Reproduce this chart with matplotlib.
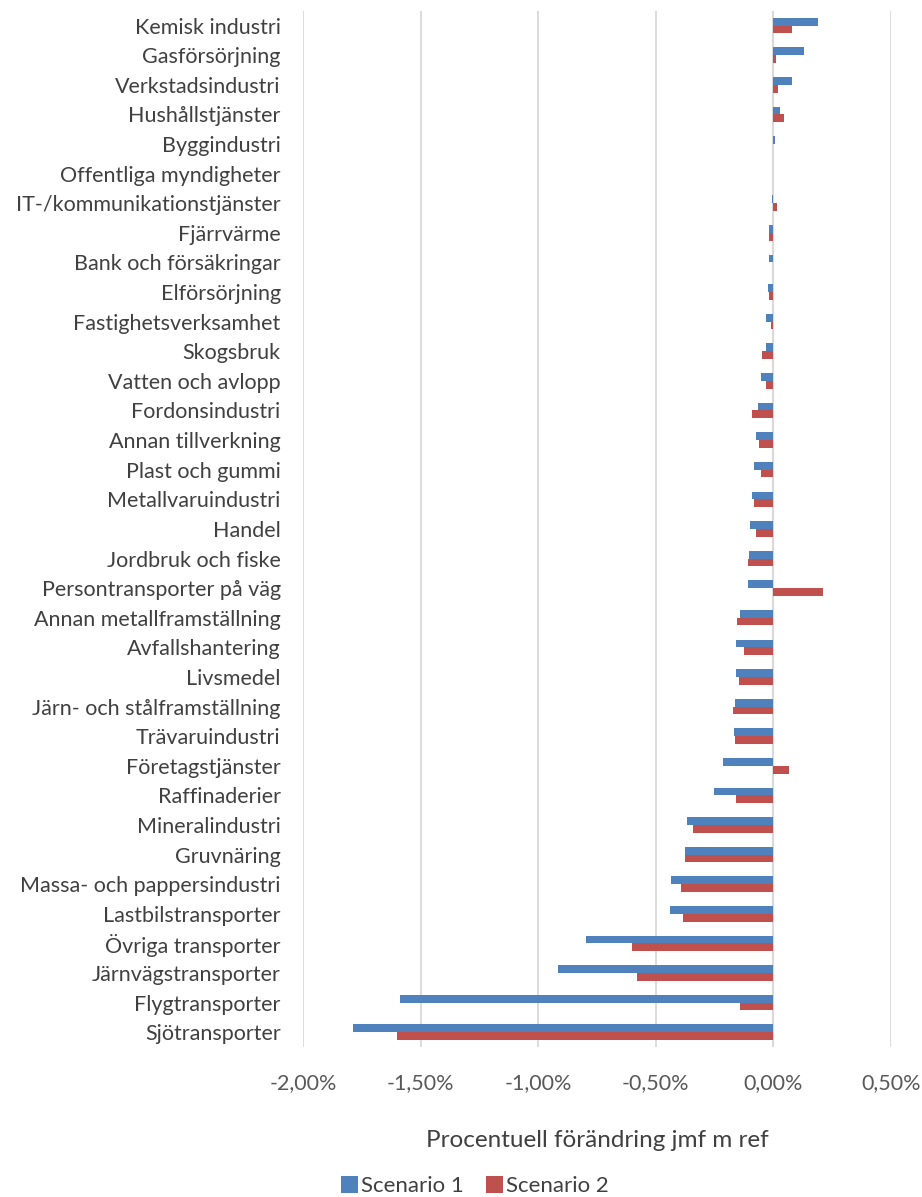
import matplotlib
matplotlib.use("Agg")
import matplotlib.pyplot as plt
import numpy as np
from matplotlib.ticker import FuncFormatter, MultipleLocator

plt.rcParams['font.family'] = ['Lato', 'DejaVu Sans']

# data, percent change vs reference
sectors = [
    "Kemisk industri", "Gasförsörjning", "Verkstadsindustri", "Hushållstjänster",
    "Byggindustri", "Offentliga myndigheter", "IT-/kommunikationstjänster",
    "Fjärrvärme", "Bank och försäkringar", "Elförsörjning", "Fastighetsverksamhet",
    "Skogsbruk", "Vatten och avlopp", "Fordonsindustri", "Annan tillverkning",
    "Plast och gummi", "Metallvaruindustri", "Handel", "Jordbruk och fiske",
    "Persontransporter på väg", "Annan metallframställning", "Avfallshantering",
    "Livsmedel", "Järn- och stålframställning", "Trävaruindustri",
    "Företagstjänster", "Raffinaderier", "Mineralindustri", "Gruvnäring",
    "Massa- och pappersindustri", "Lastbilstransporter", "Övriga transporter",
    "Järnvägstransporter", "Flygtransporter", "Sjötransporter",
]
scenario1 = [
    0.190, 0.128, 0.078, 0.026, 0.005, 0.000, -0.004, -0.020, -0.020, -0.022,
    -0.030, -0.030, -0.054, -0.064, -0.074, -0.081, -0.090, -0.098, -0.105,
    -0.108, -0.140, -0.159, -0.159, -0.163, -0.169, -0.216, -0.252, -0.366,
    -0.374, -0.435, -0.440, -0.796, -0.916, -1.587, -1.789,
]
scenario2 = [
    0.080, 0.013, 0.018, 0.044, 0.000, 0.000, 0.015, -0.020, -0.002, -0.018,
    -0.012, -0.050, -0.030, -0.090, -0.060, -0.054, -0.081, -0.075, -0.110,
    0.210, -0.155, -0.126, -0.148, -0.173, -0.163, 0.065, -0.160, -0.340,
    -0.377, -0.393, -0.384, -0.602, -0.580, -0.142, -1.600,
]

blue = "#4F81BD"
red = "#C0504D"

fig = plt.figure(figsize=(9.22, 11.97), dpi=100)
ax = fig.add_axes([0.3286, 0.1253, 0.6378, 0.8657])

y = np.arange(len(sectors))
h = 0.262
ax.barh(y - h / 2, scenario1, height=h, color=blue, label="Scenario 1", zorder=3)
ax.barh(y + h / 2, scenario2, height=h, color=red, label="Scenario 2", zorder=3)

ax.set_xlim(-2.0, 0.5)
ax.set_ylim(len(sectors) - 0.5, -0.5)
ax.xaxis.set_major_locator(MultipleLocator(0.5))
ax.xaxis.set_major_formatter(FuncFormatter(lambda v, p: f"{v:.2f}%".replace(".", ",")))
ax.grid(axis="x", color="#D9D9D9", linewidth=1.3, zorder=0)
ax.axvline(0, color="#D9D9D9", linewidth=1.5, zorder=2)

for s in ax.spines.values():
    s.set_visible(False)

ax.set_yticks(y)
ax.set_yticklabels(sectors)
ax.tick_params(axis="y", length=0, pad=16, labelsize=15.5, labelcolor="#404040")
ax.tick_params(axis="x", length=0, pad=19, labelsize=15.5, labelcolor="#595959")

ax.set_xlabel("Procentuell förändring jmf m ref", fontsize=17.5, color="#404040", labelpad=26)

fig.legend(loc="center", bbox_to_anchor=(0.515, 0.009), ncol=2, frameon=False,
           fontsize=16, handlelength=0.75, handleheight=0.75, handletextpad=0.15,
           columnspacing=1.0, labelcolor="#404040")

fig.savefig("out.png", dpi=100)
